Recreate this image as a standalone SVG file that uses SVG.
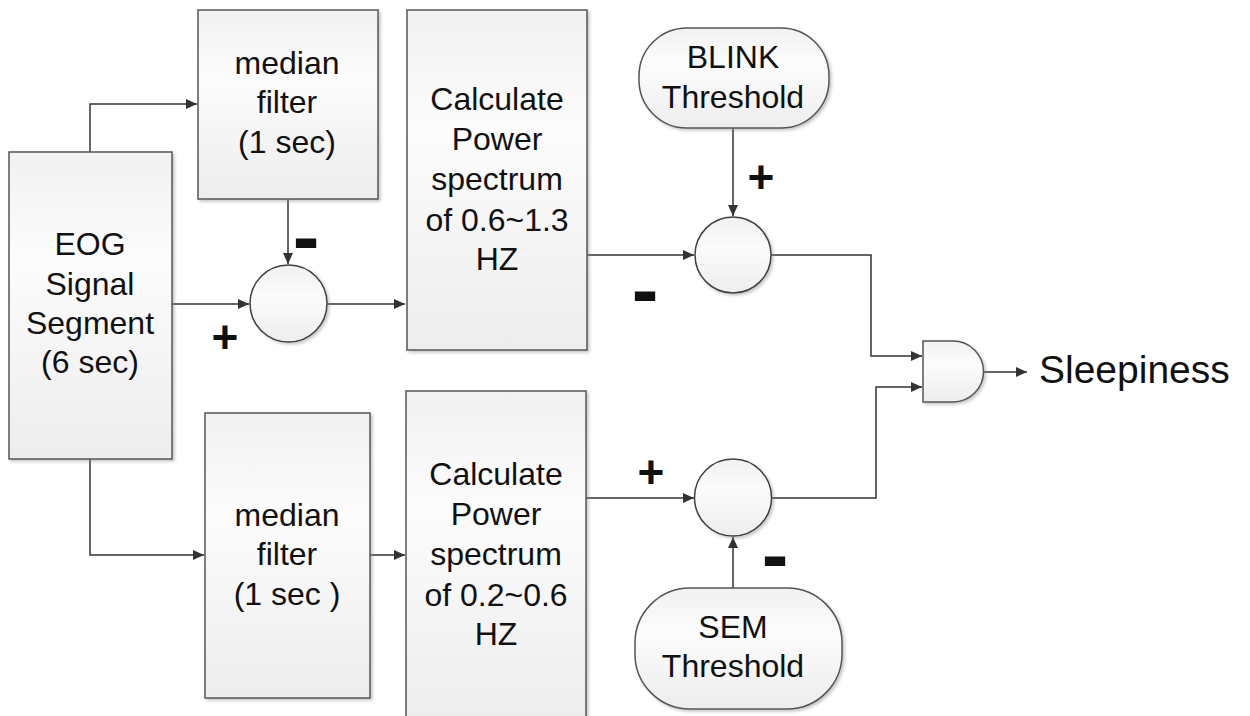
<svg xmlns="http://www.w3.org/2000/svg" width="1250" height="716" viewBox="0 0 1250 716">
<style>
.box{stroke:#555;stroke-width:1.5;fill:url(#gb);filter:url(#sh)}
.circ{stroke:#404040;stroke-width:1.5;fill:url(#gc);filter:url(#sh)}
.t{font-family:"Liberation Sans",Arial,sans-serif;font-size:32px;fill:#111;text-anchor:middle}
.sign{font-family:"Liberation Sans",Arial,sans-serif;font-weight:bold;fill:#111;text-anchor:middle}
.plus{font-size:46px}
.minus{font-size:80px}
.c{fill:none;stroke:#333;stroke-width:1.5}
</style>
<defs>
<linearGradient id="gb" x1="0" y1="0" x2="0" y2="1">
<stop offset="0" stop-color="#f1f1f1"/>
<stop offset="0.35" stop-color="#fcfcfc"/>
<stop offset="1" stop-color="#ededed"/>
</linearGradient>
<linearGradient id="gc" x1="0" y1="0" x2="0" y2="1">
<stop offset="0" stop-color="#f1f1f1"/>
<stop offset="0.4" stop-color="#fbfbfb"/>
<stop offset="1" stop-color="#eeeeee"/>
</linearGradient>
<filter id="sh" x="-10%" y="-10%" width="125%" height="125%">
<feDropShadow dx="2" dy="2" stdDeviation="1.5" flood-color="#888" flood-opacity="0.45"/>
</filter>
<marker id="arr" markerUnits="userSpaceOnUse" markerWidth="12" markerHeight="10" refX="11" refY="5" orient="auto">
<path d="M0,0 L11,5 L0,10 z" fill="#333"/>
</marker>
</defs>
<rect width="1250" height="716" fill="#fff"/>

<g id="connectors">
<path class="c" d="M90,152 V104 H197" marker-end="url(#arr)"/>
<path class="c" d="M172,304 H249" marker-end="url(#arr)"/>
<path class="c" d="M288,199 V264" marker-end="url(#arr)"/>
<path class="c" d="M327,304 H405" marker-end="url(#arr)"/>
<path class="c" d="M587,255 H694" marker-end="url(#arr)"/>
<path class="c" d="M733,128 V216" marker-end="url(#arr)"/>
<path class="c" d="M771,255 H871 V356 H922" marker-end="url(#arr)"/>
<path class="c" d="M90,459 V555 H204" marker-end="url(#arr)"/>
<path class="c" d="M370,555 H405" marker-end="url(#arr)"/>
<path class="c" d="M586,498 H694" marker-end="url(#arr)"/>
<path class="c" d="M733,588 V537" marker-end="url(#arr)"/>
<path class="c" d="M771,498 H876 V387 H922" marker-end="url(#arr)"/>
<path class="c" d="M983,372 H1027" marker-end="url(#arr)"/>
</g>

<g id="eog">
<rect class="box" x="9" y="152" width="163" height="307"/>
<text class="t" x="90" y="255">EOG</text>
<text class="t" x="90" y="295">Signal</text>
<text class="t" x="90" y="334">Segment</text>
<text class="t" x="90" y="373">(6 sec)</text>
</g>

<g id="median1">
<rect class="box" x="198" y="10" width="180" height="189"/>
<text class="t" x="287" y="74">median</text>
<text class="t" x="287" y="113">filter</text>
<text class="t" x="287" y="153">(1 sec)</text>
</g>

<g id="sum1">
<circle class="circ" cx="288.5" cy="303.5" r="38.5"/>
</g>

<g id="calc1">
<rect class="box" x="407" y="10" width="180" height="340"/>
<text class="t" x="497" y="110">Calculate</text>
<text class="t" x="497" y="150">Power</text>
<text class="t" x="497" y="190">spectrum</text>
<text class="t" x="497" y="231">of 0.6~1.3</text>
<text class="t" x="497" y="270">HZ</text>
</g>

<g id="blink">
<rect class="box" x="639" y="28" width="190" height="100" rx="48" ry="48"/>
<text class="t" x="733" y="68">BLINK</text>
<text class="t" x="733" y="108">Threshold</text>
</g>

<g id="sum2">
<circle class="circ" cx="733" cy="255" r="38"/>
</g>

<g id="median2">
<rect class="box" x="205" y="413" width="165" height="285"/>
<text class="t" x="287" y="526">median</text>
<text class="t" x="287" y="565">filter</text>
<text class="t" x="287" y="605">(1 sec )</text>
</g>

<g id="calc2">
<rect class="box" x="406" y="391" width="180" height="330"/>
<text class="t" x="496" y="485">Calculate</text>
<text class="t" x="496" y="525">Power</text>
<text class="t" x="496" y="565">spectrum</text>
<text class="t" x="496" y="606">of 0.2~0.6</text>
<text class="t" x="496" y="645">HZ</text>
</g>

<g id="sum3">
<circle class="circ" cx="733" cy="497.5" r="38.5"/>
</g>

<g id="sem">
<rect class="box" x="635" y="588" width="207" height="121" rx="55" ry="55"/>
<text class="t" x="733" y="638">SEM</text>
<text class="t" x="733" y="677">Threshold</text>
</g>

<g id="and">
<path class="box" d="M923,341 H953 A30.5,30.5 0 0 1 953,402 H923 Z"/>
</g>

<g id="output">
<text x="1039" y="383" font-family="Liberation Sans, Arial, sans-serif" font-size="39" fill="#111">Sleepiness</text>
</g>

<g id="signs">
<text class="sign plus" x="225" y="353">+</text>
<text class="sign minus" x="306" y="264">-</text>
<text class="sign minus" x="645" y="317">-</text>
<text class="sign plus" x="761" y="193">+</text>
<text class="sign plus" x="651" y="488">+</text>
<text class="sign minus" x="775" y="582">-</text>
</g>
</svg>
